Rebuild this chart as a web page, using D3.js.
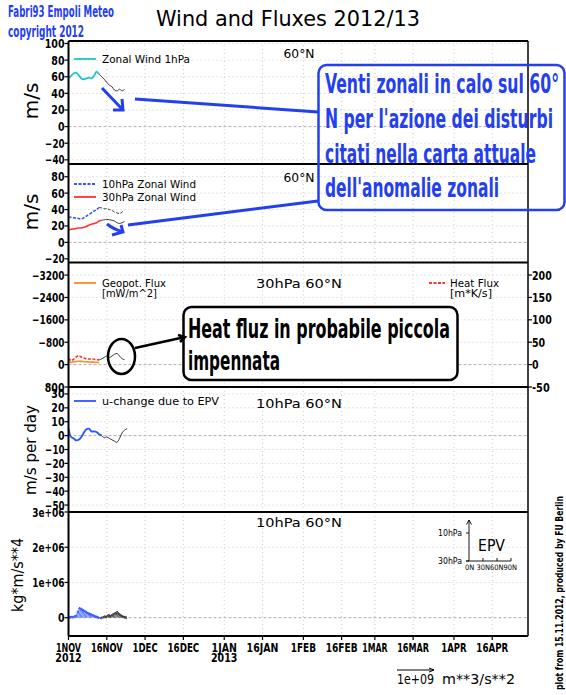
<!DOCTYPE html>
<html><head><meta charset="utf-8">
<script src="https://cdn.jsdelivr.net/npm/d3@7"></script>
<style>body{margin:0;background:#fff}svg{display:block}</style>
</head><body><svg id="c" width="566" height="695"></svg>
<script>
// ---- data (day 0 = 1 Nov 2012) ----
const xTickDates = ["2012-11-01","2012-11-16","2012-12-01","2012-12-16","2013-01-01","2013-01-16","2013-02-01","2013-02-16","2013-03-01","2013-03-16","2013-04-01","2013-04-16"];
const xTickLabels = ["1NOV","16NOV","1DEC","16DEC","1JAN","16JAN","1FEB","16FEB","1MAR","16MAR","1APR","16APR"];
const yearLabels = [["2012-11-01","2012"],["2013-01-01","2013"]];

// zonal wind 1hPa, 60N (analysis from day 0, forecast from day 12)
const wind1Ana = [58,61,64,65,62,58,57,58,59,58,61,66,63];
const wind1Fc  = [63,60,57,53,50,48,44,43,45,43,45];
// zonal wind 10hPa / 30hPa
const wind10Ana = [31,30.5,30,29.5,29,28.5,30,32,34,36,38,40,42.5];
const wind10Fc  = [42.5,42,41,41,40,39,37,36,35,37,38];
const wind30Ana = [15,16,16.5,17,17.5,17.5,18.5,19.5,21,22,23,24,26,27];
const wind30Fc  = [27,27.5,28,27.5,27,26,24,23,24,25.5];
// 30hPa fluxes
const geopotAna = [-90,-80,-100,-110,-120,-115,-105,-100,-95,-90,-85,-80,-75];
const heatAna = [14,9,12,17,20,17,15,13,12.5,12.5,12,11,10.5];
const heatFc  = [10.5,13,16,19,16,19,23,25,19,13,11];
// u-change due to EPV, 10hPa
const uChangeAna = [5,-1,-2,-3.4,-3,-1,2,4.5,5,3,3,2.5,1,0];
const uChangeFc  = [0,-1.5,-1,-2,-3,-4,-4.8,-2,2,4,5];
// EP flux vectors, 10hPa (half-day steps): vertical [kg*m/s**4], horizontal [1e9 m**3/s**2]
const epvFzAna = [3e4,4e4,5e4,4e4,6e4,8e4,2e5,3e5,2.8e5,2.6e5,2.4e5,2.2e5,2e5,1.8e5,1.6e5,1.5e5,1.3e5,1.2e5,1e5,9e4,7e4,6e4,5e4,3e4,0,-4e4];
const epvFyAna = [.1,.1,.12,.1,.12,.15,.2,.25,.25,.24,.22,.2,.2,.18,.16,.15,.14,.12,.1,.1,.08,.08,.06,.05,.04,.04];
const epvFzFc  = [2e4,4e4,6e4,5e4,8e4,1e5,7e4,9e4,1.2e5,1.4e5,1.6e5,1.9e5,1.5e5,1.2e5,1e5,8e4,6e4,5e4,4e4,3e4];
const epvFyFc  = [.05,.06,.08,.07,.1,.12,.1,.12,.14,.15,.16,.18,.15,.13,.12,.1,.08,.07,.06,.05];

// ---- helpers ----
const DAY = 864e5, T0 = Date.UTC(2012,10,1);
const dayDate = d => new Date(T0 + d*DAY);
const series = (arr, d0, step=1) => arr.map((v,i)=>({t:dayDate(d0+i*step), v}));
const parseD = d3.utcParse("%Y-%m-%d");

const svg = d3.select("#c");
const X0 = 68.5, X1 = 528;
const x = d3.scaleUtc().domain([dayDate(0), dayDate(180)]).range([X0, X1]);

const monoFont = "'DejaVu Sans', sans-serif";
const tickFont = "'Liberation Sans Narrow','DejaVu Sans Condensed','Liberation Sans',sans-serif";
const noteFont = "'DejaVu Sans Condensed','Liberation Sans Narrow','Roboto',sans-serif";

const panels = [
  {top:41,   bottom:164,   domain:[-45,103],     ticks:[100,80,60,40,20,0,-20,-40], fmt:d3.format("d")},
  {top:164,  bottom:262.5, domain:[-24.5,95.5],  ticks:[80,60,40,20,0,-20], fmt:d3.format("d")},
  {top:262.5,bottom:387,   domain:[800,-3650],   ticks:[-3200,-2400,-1600,-800,0,800], fmt:d3.format("d")},
  {top:387,  bottom:512,   domain:[-55,35],      ticks:[30,20,10,0,-10,-20,-30,-40,-50], fmt:d3.format("d")},
  {top:512,  bottom:636,   domain:[-520000,3000000], ticks:[3e6,2e6,1e6,0], fmt:v=> v===0?"0":(v/1e6)+"e+06"}
];
panels.forEach(p => p.y = d3.scaleLinear().domain(p.domain).range([p.bottom,p.top]));
const yHeat = d3.scaleLinear().domain([-50,228]).range([387,262.5]);
const heatTicks = [200,150,100,50,0,-50];

const grid = svg.append("g");
const data = svg.append("g");
const frame = svg.append("g");
const txt = svg.append("g");

// grid lines
panels.forEach(p => {
  xTickDates.forEach(d => {
    const xx = x(parseD(d));
    grid.append("line").attr("x1",xx).attr("x2",xx).attr("y1",p.top).attr("y2",p.bottom)
      .attr("stroke","#bdbdbd").attr("stroke-width",0.8).attr("stroke-dasharray","1,3");
  });
  p.ticks.forEach(t => {
    const yy = p.y(t);
    if (yy <= p.top+1 || yy >= p.bottom-1) return;
    grid.append("line").attr("x1",X0).attr("x2",X1).attr("y1",yy).attr("y2",yy)
      .attr("stroke", t===0 ? "#9a9a9a" : "#bdbdbd").attr("stroke-width",0.8)
      .attr("stroke-dasharray", t===0 ? "3,2" : "1,3");
  });
});

function drawLine(s, yS, color, width, dash) {
  const gen = d3.line().x(d=>x(d.t)).y(d=>yS(d.v)).curve(d3.curveCatmullRom);
  data.append("path").datum(s).attr("d",gen).attr("fill","none")
    .attr("stroke",color).attr("stroke-width",width).attr("stroke-dasharray",dash||null);
}
const CYAN="#1fc6c6", BLUE="#2f55ff", RED="#ff3333", ORANGE="#ff8a1e";

drawLine(series(wind1Ana,0), panels[0].y, CYAN, 1.8);
drawLine(series(wind1Fc,12), panels[0].y, "#222", 0.9);
drawLine(series(wind10Ana,0), panels[1].y, BLUE, 1.6, "3,1.5");
drawLine(series(wind10Fc,12), panels[1].y, "#222", 0.9, "3,1.5");
drawLine(series(wind30Ana,0), panels[1].y, RED, 1.6);
drawLine(series(wind30Fc,13), panels[1].y, "#222", 0.9);
drawLine(series(geopotAna,0), panels[2].y, ORANGE, 1.6);
drawLine(series(heatAna,0), yHeat, RED, 1.6, "3,1.5");
drawLine(series(heatFc,12), yHeat, "#222", 0.9);
drawLine(series(uChangeAna,0), panels[3].y, BLUE, 1.8);
drawLine(series(uChangeFc,13), panels[3].y, "#222", 0.9);

// EP flux vectors
const vecPx = 36; // px per 1e9 m**3/s**2
function drawVectors(fz, fy, d0, color) {
  const p = panels[4];
  fz.forEach((v,i) => {
    const t = dayDate(d0 + i*0.5);
    const bx = x(t), by = p.y(0);
    const tx = bx + fy[i]*vecPx*0.25, ty = p.y(v);
    data.append("line").attr("x1",bx).attr("y1",by).attr("x2",tx).attr("y2",ty)
      .attr("stroke",color).attr("stroke-width",0.8);
    const ang = Math.atan2(ty-by, tx-bx), hl = 2.5;
    [0.5,-0.5].forEach(a => data.append("line").attr("x1",tx).attr("y1",ty)
      .attr("x2",tx-hl*Math.cos(ang+a)).attr("y2",ty-hl*Math.sin(ang+a))
      .attr("stroke",color).attr("stroke-width",0.8));
  });
}
drawVectors(epvFzAna, epvFyAna, 0, BLUE);
drawVectors(epvFzFc, epvFyFc, 13, "#333");

function T(xx, yy, s, o={}) {
  const e = (o.parent||txt).append("text").attr("x",xx).attr("y",yy).text(s)
    .attr("font-family",o.font||monoFont).attr("font-size",o.size||11)
    .attr("fill",o.fill||"#000").attr("font-weight",o.weight||"normal");
  if (o.anchor) e.attr("text-anchor",o.anchor);
  if (o.len) e.attr("textLength",o.len).attr("lengthAdjust","spacingAndGlyphs");
  if (o.rot) e.attr("transform",`rotate(${o.rot},${xx},${yy})`);
  return e;
}
// bold tick labels, width by character class
const charW = c => /[0-9]/.test(c) ? 6.6 : (c === "-" ? 4.5 : 6.2);
const tickOpt = s => ({font:tickFont, weight:"bold", size:12.5, len:d3.sum(s.split(""), charW)});

// frames and axes
panels.forEach(p => {
  frame.append("line").attr("x1",X0).attr("x2",X1).attr("y1",p.top).attr("y2",p.top)
    .attr("stroke","#000").attr("stroke-width",2.2);
  p.ticks.forEach(t => {
    const yy = p.y(t), s = p.fmt(t);
    frame.append("line").attr("x1",X0-4).attr("x2",X0).attr("y1",yy).attr("y2",yy).attr("stroke","#000").attr("stroke-width",1.2);
    T(X0-4, yy+4.5, s, Object.assign(tickOpt(s), {anchor:"end"}));
  });
});
frame.append("line").attr("x1",X0).attr("x2",X1).attr("y1",636).attr("y2",636).attr("stroke","#000").attr("stroke-width",2);
frame.append("line").attr("x1",X0).attr("x2",X0).attr("y1",41).attr("y2",636).attr("stroke","#000").attr("stroke-width",2);
frame.append("line").attr("x1",X1).attr("x2",X1).attr("y1",41).attr("y2",636).attr("stroke","#000").attr("stroke-width",1.5);
heatTicks.forEach(t => {
  const yy = yHeat(t), s = String(t);
  frame.append("line").attr("x1",X1).attr("x2",X1+4).attr("y1",yy).attr("y2",yy).attr("stroke","#000").attr("stroke-width",1.2);
  T(X1+4, yy+4.5, s, tickOpt(s));
});
xTickDates.forEach((d,i) => {
  const xx = x(parseD(d)), s = xTickLabels[i];
  frame.append("line").attr("x1",xx).attr("x2",xx).attr("y1",636).attr("y2",640).attr("stroke","#000").attr("stroke-width",1.2);
  T(xx, 652, s, Object.assign(tickOpt(s), {anchor:"middle"}));
});
yearLabels.forEach(([d,l]) => T(x(parseD(d)), 662, l, Object.assign(tickOpt(l), {anchor:"middle"})));

T(156, 26, "Wind and Fluxes 2012/13", {size:21, len:264});
T(38, 101, "m/s", {size:20, anchor:"middle", rot:-90});
T(38, 212, "m/s", {size:20, anchor:"middle", rot:-90});
T(36, 450, "m/s per day", {size:16, anchor:"middle", rot:-90, len:90});
T(23, 575, "kg*m/s**4", {size:15, anchor:"middle", rot:-90, len:74});

T(299, 58, "60°N", {size:13, anchor:"middle", len:31});
T(299, 182, "60°N", {size:13, anchor:"middle", len:31});
T(299, 288, "30hPa 60°N", {size:13, anchor:"middle", len:86});
T(299, 408, "10hPa 60°N", {size:13, anchor:"middle", len:86});
T(299, 527, "10hPa 60°N", {size:13, anchor:"middle", len:86});

function legLine(x1,x2,yy,color,dash){ txt.append("line").attr("x1",x1).attr("x2",x2).attr("y1",yy).attr("y2",yy)
  .attr("stroke",color).attr("stroke-width",1.8).attr("stroke-dasharray",dash||null); }
legLine(74,96,59,CYAN);          T(102,63,"Zonal Wind 1hPa",{len:88});
legLine(74,96,184,BLUE,"3,1.5");  T(102,188,"10hPa Zonal Wind",{len:94});
legLine(74,96,197,RED);          T(102,201,"30hPa Zonal Wind",{len:94});
legLine(74,96,283,ORANGE);       T(102,287,"Geopot. Flux",{len:64}); T(102,297,"[mW/m^2]",{len:55});
legLine(429,445,283,RED,"3,1.5"); T(450,287,"Heat Flux",{len:49}); T(450,297,"[m*K/s]",{len:42});
legLine(74,96,401,BLUE);         T(102,405,"u-change due to EPV",{len:117});

// EPV inset
const ins = svg.append("g").attr("stroke","#000").attr("stroke-width",0.9).attr("fill","none");
ins.append("path").attr("d","M469,561V520M466.5,524.5L469,520L471.5,524.5M466,561H511M483,561v-3M497,561v-3M511,561v-3M466,533h3M466,561h3");
T(462, 536, "10hPa", {size:8, anchor:"end", len:24});
T(462, 564, "30hPa", {size:8, anchor:"end", len:24});
T(465, 570, "0N 30N60N90N", {size:7.5, len:52});
T(478, 551, "EPV", {size:15, len:27});

// reference vector and footer
svg.append("path").attr("d","M397,670H434M429,668L434,670L429,672").attr("stroke","#000").attr("fill","none").attr("stroke-width",1);
T(397, 684, "1e+09", {size:14, len:37});
T(442, 684, "m**3/s**2", {size:14, len:73});
T(563, 690, "plot from 15.11.2012, produced by FU Berlin", {size:11, weight:"bold", rot:-90, len:194});

// author notes
const NB = "#2440ee";
const note = svg.append("g").attr("fill","none");
T(8, 17, "Fabri93 Empoli Meteo", {parent:note, font:noteFont, size:15, weight:"bold", fill:NB, len:106});
T(8, 37, "copyright 2012", {parent:note, font:noteFont, size:15, weight:"bold", fill:NB, len:76});

note.append("rect").attr("x",318.5).attr("y",65).attr("width",246).attr("height",145).attr("rx",8)
  .attr("stroke",NB).attr("stroke-width",2.5).attr("fill","none");
[["Venti zonali in calo sul 60°",93,234],["N per l'azione dei disturbi",128,228],["citati nella carta attuale",163,211],["dell'anomalie zonali",197,174]]
  .forEach(([s,yy,l]) => T(325, yy, s, {parent:note, font:noteFont, size:26, weight:"bold", fill:NB, len:l}));
note.append("path").attr("d","M135,99L318,112M128,225L318,201").attr("stroke",NB).attr("stroke-width",3);
note.append("path").attr("d","M102,88L123,110M113,110L123,110L122,99").attr("stroke",NB).attr("stroke-width",3);
note.append("path").attr("d","M107,224Q113,229 123,232M112,235L123,232L121,225").attr("stroke",NB).attr("stroke-width",3);

note.append("rect").attr("x",183.5).attr("y",307).attr("width",274).attr("height",73).attr("rx",8)
  .attr("stroke","#000").attr("stroke-width",2.5).attr("fill","#fff");
T(188, 338, "Heat fluz in probabile piccola", {parent:note, font:noteFont, size:27, weight:"bold", len:262});
T(188, 370, "impennata", {parent:note, font:noteFont, size:27, weight:"bold", len:92});
note.append("ellipse").attr("cx",121.5).attr("cy",356.5).attr("rx",13.5).attr("ry",17.5).attr("stroke","#000").attr("stroke-width",2.5);
note.append("path").attr("d","M135,348L185,337M178,335L185,337L180,342").attr("stroke","#000").attr("stroke-width",2.5);
</script></body></html>
